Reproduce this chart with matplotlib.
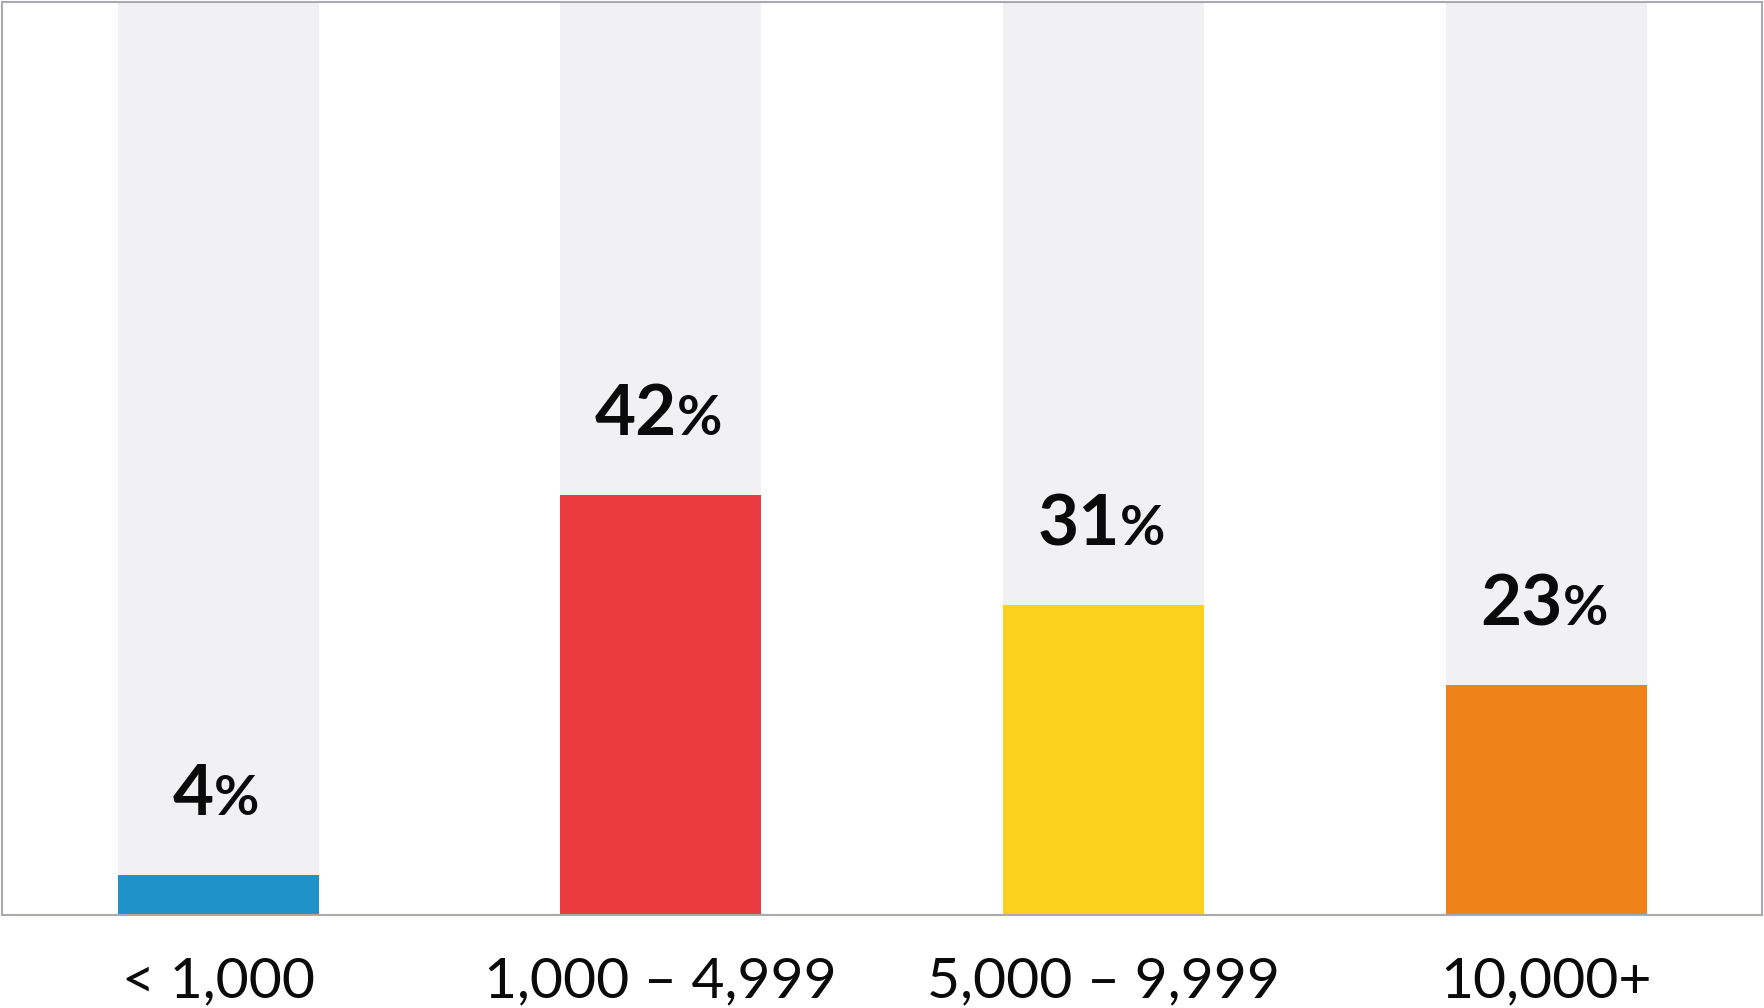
import matplotlib.pyplot as plt
from matplotlib.offsetbox import AnnotationBbox, HPacker, TextArea

categories = ['< 1,000', '1,000 \u2013 4,999', '5,000 \u2013 9,999', '10,000+']
values = [4, 42, 31, 23]
colors = ['#1F93C9', '#E83A3F', '#FBD11B', '#F08317']

plt.rcParams['font.family'] = ['Lato', 'DejaVu Sans']

fig = plt.figure(figsize=(17.64, 10.08), dpi=100)
ax = fig.add_axes([1.5 / 1764, 93.5 / 1008, 1760.5 / 1764, 912.5 / 1008])

ymax = 91.25
x = list(range(len(categories)))
width = 0.454

# background track behind each bar
ax.bar(x, [ymax] * len(x), width=width, color='#F1F1F3', zorder=1)
ax.bar(x, values, width=width, color=colors, zorder=2)

for xi, v in zip(x, values):
    num = TextArea(str(v), textprops=dict(fontsize=51, fontweight='bold', color='#0A0A0A'))
    pct = TextArea('%', textprops=dict(fontsize=40, fontweight='bold', color='#0A0A0A'))
    box = HPacker(children=[num, pct], align='baseline', pad=0, sep=0)
    ab = AnnotationBbox(box, (xi - 0.005, v + 4.75), frameon=False, box_alignment=(0.5, 0),
                        pad=0, zorder=3)
    ax.add_artist(ab)

ax.set_xlim(-0.489, 3.487)
ax.set_ylim(0, ymax)
ax.set_xticks(x)
ax.set_xticklabels(categories, fontsize=41, color='#0A0A0A')
ax.tick_params(axis='x', length=0, pad=30)
ax.set_yticks([])

for s in ax.spines.values():
    s.set_color('#A9A9AF')
    s.set_linewidth(1.5)

fig.savefig('out.png', dpi=100)
